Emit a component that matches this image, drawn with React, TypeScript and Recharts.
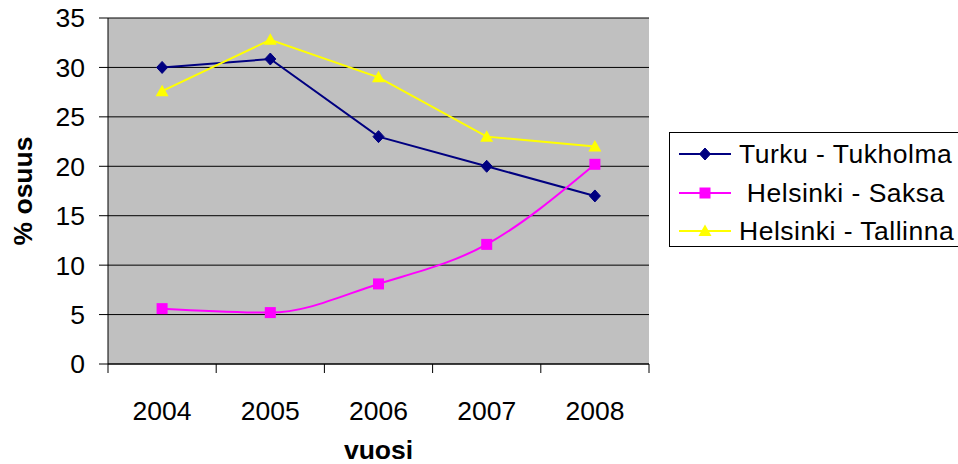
import { CartesianGrid, Line, LineChart, XAxis, YAxis } from "recharts";

const years = ["2004", "2005", "2006", "2007", "2008"];
const turku = [30, 30.85, 23, 20, 17];
const saksa = [5.6, 5.2, 8.1, 12.1, 20.2];
const tallinna = [27.6, 32.8, 29, 23, 22];
const yTicks = [0, 5, 10, 15, 20, 25, 30, 35];

const series = [
  { key: "turku", name: "Turku - Tukholma", color: "#000080", shape: "diamond", smooth: false },
  { key: "saksa", name: " Helsinki - Saksa", color: "#FF00FF", shape: "square", smooth: true },
  { key: "tallinna", name: "Helsinki - Tallinna", color: "#FFFF00", shape: "triangle", smooth: false },
];

const data = years.map((year, i) => ({
  year,
  turku: turku[i],
  saksa: saksa[i],
  tallinna: tallinna[i],
}));

const FONT = "'Liberation Sans', Arial, sans-serif";
const FS = 26.5;
const W = 958;
const H = 464;
const PLOT_LEFT = 108;
const PLOT_RIGHT = 649;
const BAND = (PLOT_RIGHT - PLOT_LEFT) / years.length;

const Marker = ({ shape, color, cx, cy }: any) => {
  if (shape === "diamond") {
    return (
      <polygon
        points={`${cx},${cy - 6} ${cx + 5.5},${cy} ${cx},${cy + 6} ${cx - 5.5},${cy}`}
        fill={color}
        stroke={color}
      />
    );
  }
  if (shape === "square") {
    return <rect x={cx - 5.5} y={cy - 5.5} width={11} height={11} fill={color} />;
  }
  return (
    <polygon
      points={`${cx},${cy - 6.5} ${cx + 6.5},${cy + 5} ${cx - 6.5},${cy + 5}`}
      fill={color}
    />
  );
};

const XTick = ({ x, y, payload, index }: any) => {
  const last = index === years.length - 1;
  return (
    <g>
      <line x1={x - BAND / 2} y1={y} x2={x - BAND / 2} y2={y + 9} stroke="#000" />
      {last && <line x1={x + BAND / 2} y1={y} x2={x + BAND / 2} y2={y + 9} stroke="#000" />}
      <text x={x} y={y + 56} textAnchor="middle" fontSize={FS} fill="#000" fontFamily={FONT}>
        {payload.value}
      </text>
    </g>
  );
};

const LegendBox = () => (
  <div
    style={{
      position: "absolute",
      left: 669,
      top: 132,
      width: 300,
      height: 115,
      border: "1px solid #000",
      background: "#fff",
      boxSizing: "border-box",
      paddingTop: 2,
      fontFamily: FONT,
      fontSize: FS,
      letterSpacing: 0.5,
    }}
  >
    {series.map((s) => (
      <div key={s.key} style={{ display: "flex", alignItems: "center", height: 38.5 }}>
        <svg width={69} height={20} style={{ flex: "none" }}>
          <line x1={9} y1={10} x2={61} y2={10} stroke={s.color} strokeWidth={2} />
          <Marker shape={s.shape} color={s.color} cx={35} cy={10} />
        </svg>
        <span style={{ whiteSpace: "pre", lineHeight: "26px" }}>{s.name}</span>
      </div>
    ))}
  </div>
);

export default function App() {
  return (
    <div style={{ position: "absolute", left: 0, top: 0, width: W, height: H, background: "#fff" }}>
      <LineChart
        width={W}
        height={H}
        data={data}
        margin={{ top: 18, right: W - PLOT_RIGHT, bottom: 0, left: 0 }}
      >
        <CartesianGrid vertical={false} stroke="#000" fill="#C0C0C0" fillOpacity={1} />
        <XAxis
          dataKey="year"
          height={100}
          padding={{ left: BAND / 2, right: BAND / 2 }}
          axisLine={{ stroke: "#000" }}
          tickLine={false}
          tickSize={0}
          tickMargin={0}
          tick={<XTick />}
          interval={0}
          label={{
            content: (p: any) => {
              const vb = p.viewBox;
              return (
                <text
                  x={vb.x + vb.width / 2}
                  y={vb.y + 95}
                  textAnchor="middle"
                  fontSize={FS}
                  fontWeight="bold"
                  fontFamily={FONT}
                  fill="#000"
                >
                  vuosi
                </text>
              );
            },
          }}
        />
        <YAxis
          width={PLOT_LEFT}
          domain={[0, 35]}
          ticks={yTicks}
          interval={0}
          axisLine={{ stroke: "#000" }}
          tickLine={{ stroke: "#000" }}
          tickSize={9}
          tickMargin={14}
          tick={{ fill: "#000", fontSize: FS, fontFamily: FONT }}
          label={{
            content: (p: any) => {
              const vb = p.viewBox;
              const cx = 23;
              const cy = vb.y + vb.height / 2;
              return (
                <text
                  x={cx}
                  y={cy}
                  textAnchor="middle"
                  dominantBaseline="central"
                  transform={`rotate(-90, ${cx}, ${cy})`}
                  fontSize={FS}
                  fontWeight="bold"
                  fontFamily={FONT}
                  fill="#000"
                >
                  % osuus
                </text>
              );
            },
          }}
        />
        <YAxis
          yAxisId="frame"
          orientation="right"
          width={0}
          domain={[0, 35]}
          tick={false}
          tickLine={false}
          axisLine={{ stroke: "#808080", strokeWidth: 2 }}
        />
        {series.map((s) => (
          <Line
            key={s.key}
            dataKey={s.key}
            name={s.name}
            type={s.smooth ? "monotone" : "linear"}
            stroke={s.color}
            strokeWidth={2}
            isAnimationActive={false}
            dot={(p: any) => (
              <Marker key={`${s.key}-${p.index}`} shape={s.shape} color={s.color} cx={p.cx} cy={p.cy} />
            )}
            activeDot={false}
          />
        ))}
      </LineChart>
      <LegendBox />
    </div>
  );
}
